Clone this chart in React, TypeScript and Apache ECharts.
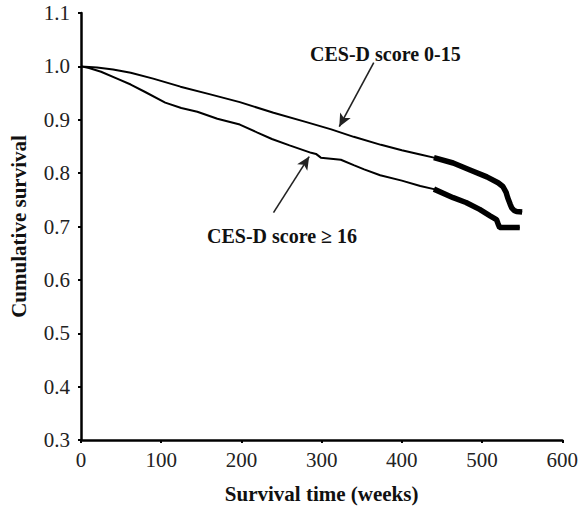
import React, { useEffect, useRef } from "react";
import * as echarts from "echarts";

// Survival time (weeks) and cumulative survival, CES-D score 0-15
const weeksLow = [0, 20, 40, 62, 90, 124, 160, 198, 240, 280, 312, 340, 374, 400, 423, 440, 464, 485, 506, 520, 526, 530, 532, 535, 537, 540, 543, 550];
const survLow = [1.0, 0.998, 0.994, 0.988, 0.977, 0.962, 0.948, 0.933, 0.913, 0.896, 0.882, 0.868, 0.853, 0.843, 0.835, 0.829, 0.819, 0.806, 0.793, 0.782, 0.775, 0.764, 0.754, 0.742, 0.735, 0.73, 0.728, 0.727];

// CES-D score >= 16
const weeksHigh = [0, 10, 25, 45, 62, 80, 105, 125, 145, 170, 198, 220, 238, 260, 287, 293, 299, 324, 340, 353, 373, 400, 423, 440, 464, 480, 497, 510, 518, 520, 522, 547];
const survHigh = [1.0, 0.997, 0.99, 0.977, 0.966, 0.952, 0.932, 0.922, 0.915, 0.902, 0.891, 0.876, 0.864, 0.852, 0.838, 0.836, 0.829, 0.825, 0.815, 0.807, 0.796, 0.786, 0.776, 0.77, 0.754, 0.745, 0.732, 0.72, 0.713, 0.705, 0.698, 0.698];

// start of dense censoring marks (weeks)
const censorStartLow = 430;
const censorStartHigh = 438;

const yTicks = [0.3, 0.4, 0.5, 0.6, 0.7, 0.8, 0.9, 1.0, 1.1];
const xTicks = [0, 100, 200, 300, 400, 500, 600];

// annotation arrows: [fromWeeks, fromSurv, toWeeks, toSurv]
const arrowLow = [365, 1.007, 322, 0.887];
const arrowHigh = [240, 0.726, 284.5, 0.831];
const labelLow = "CES-D score 0-15";
const labelHigh = "CES-D score \u2265 16";

const FONT = "'Liberation Serif', 'DejaVu Serif', serif";

export default function App() {
  const ref = useRef<HTMLDivElement>(null);
  useEffect(() => {
    if (!ref.current) return;
    const chart = echarts.init(ref.current, null, { renderer: "svg" });
    const low = weeksLow.map((w, i) => [w, survLow[i]]);
    const high = weeksHigh.map((w, i) => [w, survHigh[i]]);
    const lowCens = low.filter((p) => p[0] >= censorStartLow);
    const highCens = high.filter((p) => p[0] >= censorStartHigh);
    const arrowStyle = { color: "#222", width: 1.6, type: "solid" as const };
    chart.setOption({
      animation: false,
      backgroundColor: "#fff",
      grid: { left: 78, right: 18, top: 13, bottom: 68 },
      xAxis: {
        type: "value",
        min: xTicks[0],
        max: xTicks[xTicks.length - 1],
        interval: 100,
        name: "Survival time (weeks)",
        nameLocation: "middle",
        nameGap: 43,
        nameTextStyle: { fontFamily: FONT, fontSize: 21, fontWeight: "bold", color: "#111" },
        axisLine: { lineStyle: { color: "#000", width: 2.5 } },
        axisTick: { show: true, length: 3, lineStyle: { color: "#000", width: 2 } },
        axisLabel: { fontFamily: FONT, fontSize: 21, color: "#222", margin: 9 },
        splitLine: { show: false },
      },
      yAxis: {
        type: "value",
        min: yTicks[0],
        max: yTicks[yTicks.length - 1],
        interval: 0.1,
        name: "Cumulative survival",
        nameLocation: "middle",
        nameGap: 52,
        nameTextStyle: { fontFamily: FONT, fontSize: 21, fontWeight: "bold", color: "#111" },
        axisLine: { show: true, lineStyle: { color: "#000", width: 2.5 } },
        axisTick: { show: true, length: 3, lineStyle: { color: "#000", width: 2 } },
        axisLabel: {
          fontFamily: FONT,
          fontSize: 21,
          color: "#222",
          margin: 11,
          formatter: (v: number) => v.toFixed(1),
        },
        splitLine: { show: false },
      },
      series: [
        {
          type: "line",
          data: low,
          symbol: "none",
          lineStyle: { color: "#000", width: 2 },
          markLine: {
            silent: true,
            symbol: ["none", "arrow"],
            symbolSize: [9, 13],
            label: { show: false },
            lineStyle: arrowStyle,
            data: [
              [
                { coord: [arrowLow[0], arrowLow[1]] },
                { coord: [arrowLow[2], arrowLow[3]] },
              ],
              [
                { coord: [arrowHigh[0], arrowHigh[1]] },
                { coord: [arrowHigh[2], arrowHigh[3]] },
              ],
            ],
          },
        },
        {
          type: "line",
          data: high,
          symbol: "none",
          lineStyle: { color: "#000", width: 2 },
        },
        {
          type: "line",
          data: lowCens,
          symbol: "none",
          lineStyle: { color: "#000", width: 5.5 },
        },
        {
          type: "line",
          data: highCens,
          symbol: "none",
          lineStyle: { color: "#000", width: 5.5 },
        },
      ],
      graphic: [
        {
          type: "text",
          left: 310,
          top: 44,
          style: { text: labelLow, font: `bold 20px ${FONT}`, fill: "#111" },
        },
        {
          type: "text",
          left: 207,
          top: 226,
          style: { text: labelHigh, font: `bold 20px ${FONT}`, fill: "#111" },
        },
      ],
    });
    return () => chart.dispose();
  }, []);
  return (
    <div
      ref={ref}
      style={{ position: "fixed", left: 0, top: 0, width: 581, height: 509, background: "#fff" }}
    />
  );
}
